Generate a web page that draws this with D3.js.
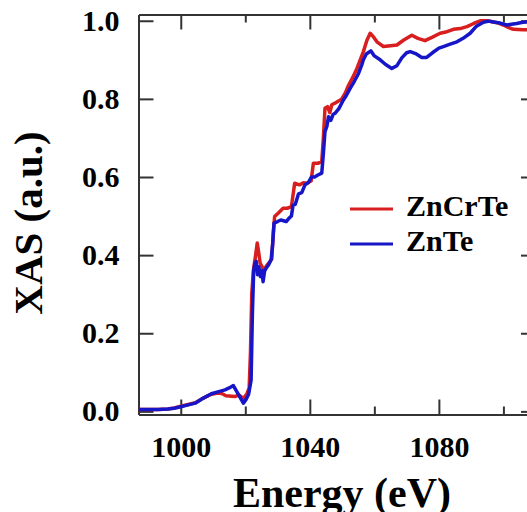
<!DOCTYPE html>
<html>
<head>
<meta charset="utf-8">
<script src="https://cdn.jsdelivr.net/npm/d3@7"></script>
<style>
  body { margin: 0; background: #fff; }
  text { font-family: "Liberation Serif", "Times New Roman", serif; font-weight: bold; fill: #000; }
</style>
</head>
<body>
<div id="chart"></div>
<script>
// ZnTe (blue)
var energyZnTe = [987, 990, 993, 996, 998, 1000, 1002, 1004.5, 1007, 1009.5, 1011.5, 1013.7, 1015, 1016.3, 1017.9, 1019.4, 1020.2, 1021, 1021.8, 1022.2, 1022.6, 1023, 1023.4, 1023.8, 1024.2, 1024.7, 1025.2, 1025.5, 1026, 1026.5, 1027.2, 1028, 1028.5, 1028.9, 1030, 1031, 1032.7, 1033.5, 1034.3, 1034.8, 1035.5, 1036.5, 1037.5, 1038.5, 1039.5, 1040.5, 1041.5, 1042.5, 1043.7, 1044.2, 1044.7, 1045.3, 1045.8, 1046.5, 1047.2, 1047.8, 1049, 1050.4, 1051.4, 1052.5, 1053.8, 1055.1, 1056.1, 1056.6, 1057.5, 1058.9, 1060, 1061.8, 1063.5, 1065.4, 1067, 1068.5, 1070, 1071.1, 1073, 1074.7, 1076.2, 1078, 1080, 1081.4, 1083.5, 1085.6, 1087.5, 1089.7, 1091.5, 1093.8, 1095.5, 1096.9, 1099, 1101, 1102.5, 1104.1, 1106, 1108, 1110];
var xasZnTe = [0.005, 0.005, 0.005, 0.006, 0.008, 0.012, 0.016, 0.021, 0.034, 0.045, 0.05, 0.055, 0.06, 0.066, 0.043, 0.021, 0.03, 0.043, 0.08, 0.25, 0.36, 0.38, 0.384, 0.35, 0.37, 0.345, 0.36, 0.332, 0.36, 0.367, 0.375, 0.388, 0.43, 0.482, 0.486, 0.49, 0.486, 0.494, 0.5, 0.528, 0.53, 0.557, 0.56, 0.58, 0.585, 0.6, 0.6, 0.605, 0.61, 0.66, 0.716, 0.73, 0.754, 0.745, 0.76, 0.763, 0.775, 0.797, 0.81, 0.827, 0.845, 0.865, 0.887, 0.9, 0.915, 0.923, 0.91, 0.9, 0.888, 0.878, 0.885, 0.905, 0.918, 0.921, 0.915, 0.906, 0.906, 0.918, 0.93, 0.934, 0.94, 0.946, 0.955, 0.968, 0.985, 0.996, 0.999, 0.997, 0.994, 0.989, 0.991, 0.993, 0.996, 0.997, 0.997];

// ZnCrTe (red)
var energyZnCrTe = [987, 990, 993, 996, 998, 1000, 1002, 1004.5, 1007, 1009.5, 1011.5, 1012.7, 1014, 1016.8, 1018, 1019.4, 1020.5, 1021.2, 1021.6, 1022, 1022.5, 1023.2, 1023.7, 1024.1, 1024.6, 1025.2, 1025.8, 1026.5, 1027.3, 1028.2, 1028.7, 1029.1, 1030.5, 1031.7, 1033, 1034.3, 1034.8, 1035.3, 1036.8, 1038, 1039, 1040.4, 1041.1, 1042.5, 1043.7, 1044.2, 1044.7, 1045.5, 1046.2, 1046.8, 1047.8, 1049, 1049.9, 1051, 1052, 1053.3, 1054.6, 1056.6, 1057.7, 1058.7, 1059.8, 1060.8, 1062.8, 1065, 1067, 1069, 1071.6, 1073.5, 1075.7, 1078, 1080.4, 1082.5, 1084.5, 1086.6, 1088.7, 1090.8, 1092.8, 1095, 1096.9, 1098.5, 1100, 1101.5, 1103.1, 1106, 1110];
var xasZnCrTe = [0.005, 0.005, 0.005, 0.006, 0.009, 0.013, 0.017, 0.022, 0.034, 0.044, 0.047, 0.046, 0.04, 0.038, 0.042, 0.033, 0.045, 0.06, 0.15, 0.3, 0.36, 0.4, 0.431, 0.41, 0.38, 0.37, 0.36, 0.372, 0.38, 0.39, 0.46, 0.499, 0.51, 0.52, 0.52, 0.524, 0.554, 0.584, 0.58, 0.585, 0.584, 0.59, 0.635, 0.635, 0.64, 0.7, 0.776, 0.78, 0.765, 0.785, 0.789, 0.795, 0.8, 0.815, 0.835, 0.855, 0.878, 0.921, 0.95, 0.968, 0.958, 0.946, 0.934, 0.936, 0.938, 0.95, 0.963, 0.955, 0.949, 0.958, 0.968, 0.972, 0.978, 0.98, 0.985, 0.993, 1.0, 1.0, 0.997, 0.994, 0.989, 0.983, 0.978, 0.977, 0.977];

var seriesNames = ["ZnCrTe", "ZnTe"];
var seriesColors = ["#d81e1e", "#1616c8"];
var majorX = [1000, 1040, 1080];
var minorX = [1020, 1060, 1100];
var yTicks = [0.0, 0.2, 0.4, 0.6, 0.8, 1.0];

function drawChart() {
  var width = 527, height = 512;
  var plotLeft = 138.5, plotRight = 536, plotTop = 14.5, plotBottom = 414.5;

  var svg = d3.select("#chart").append("svg")
    .attr("width", width)
    .attr("height", height);

  var x = d3.scaleLinear().domain([986.9, 1110.1]).range([plotLeft, plotRight]);
  var y = d3.scaleLinear().domain([-0.008, 1.016]).range([plotBottom, plotTop]);

  function styleAxis(g) {
    g.select(".domain").attr("stroke", "#333").attr("stroke-width", 2);
    g.selectAll(".tick line").attr("stroke", "#333").attr("stroke-width", 2);
    g.selectAll("text").style("font-size", "30px").attr("fill", "#000");
  }

  // bottom axis with labels
  svg.append("g")
    .attr("transform", "translate(0," + plotBottom + ")")
    .call(d3.axisBottom(x).tickValues(majorX).tickSize(-15).tickSizeOuter(0).tickPadding(21).tickFormat(d3.format("d")))
    .call(styleAxis);
  svg.append("g")
    .attr("transform", "translate(0," + plotBottom + ")")
    .call(d3.axisBottom(x).tickValues(minorX).tickSize(-8).tickSizeOuter(0).tickFormat(""))
    .call(styleAxis);

  // top axis
  svg.append("g")
    .attr("transform", "translate(0," + plotTop + ")")
    .call(d3.axisTop(x).tickValues(majorX).tickSize(-15).tickSizeOuter(0).tickFormat(""))
    .call(styleAxis);
  svg.append("g")
    .attr("transform", "translate(0," + plotTop + ")")
    .call(d3.axisTop(x).tickValues(minorX).tickSize(-8).tickSizeOuter(0).tickFormat(""))
    .call(styleAxis);

  // left axis
  svg.append("g")
    .attr("transform", "translate(" + plotLeft + ",0)")
    .call(d3.axisLeft(y).tickValues(yTicks).tickSize(-15).tickSizeOuter(0).tickPadding(19).tickFormat(d3.format(".1f")))
    .call(styleAxis);

  // right axis (mostly off the canvas, only tick stubs show)
  svg.append("g")
    .attr("transform", "translate(" + plotRight + ",0)")
    .call(d3.axisRight(y).tickValues(yTicks).tickSize(-15).tickSizeOuter(0).tickFormat(""))
    .call(styleAxis);

  var line = d3.line()
    .x(function(d) { return x(d[0]); })
    .y(function(d) { return y(d[1]); });

  var znte = d3.zip(energyZnTe, xasZnTe);
  var zncrte = d3.zip(energyZnCrTe, xasZnCrTe);

  svg.append("path")
    .datum(zncrte)
    .attr("d", line)
    .attr("fill", "none")
    .attr("stroke", seriesColors[0])
    .attr("stroke-width", 3.5)
    .attr("stroke-linejoin", "round");

  svg.append("path")
    .datum(znte)
    .attr("d", line)
    .attr("fill", "none")
    .attr("stroke", seriesColors[1])
    .attr("stroke-width", 3.5)
    .attr("stroke-linejoin", "round");

  // legend
  var legend = svg.append("g").attr("transform", "translate(350,209)");
  seriesNames.forEach(function(name, i) {
    legend.append("line")
      .attr("x1", 0).attr("x2", 43)
      .attr("y1", i * 35).attr("y2", i * 35)
      .attr("stroke", seriesColors[i])
      .attr("stroke-width", 3);
    legend.append("text")
      .attr("x", 56)
      .attr("y", i * 35 + 7)
      .style("font-size", "30px")
      .text(name);
  });

  // axis titles
  svg.append("text")
    .attr("x", 342)
    .attr("y", 507)
    .attr("text-anchor", "middle")
    .style("font-size", "42px")
    .text("Energy (eV)");

  svg.append("text")
    .attr("transform", "translate(42,223) rotate(-90)")
    .attr("text-anchor", "middle")
    .style("font-size", "41px")
    .text("XAS (a.u.)");
}

drawChart();
</script>
</body>
</html>
